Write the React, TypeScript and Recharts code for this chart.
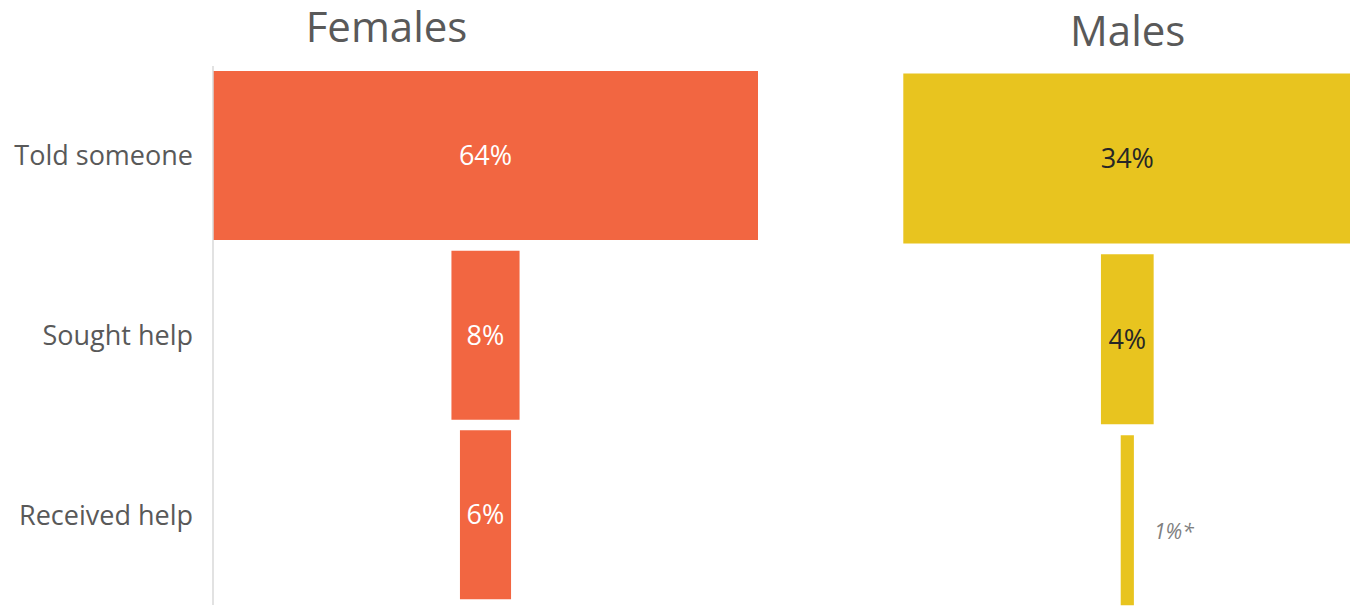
import React from "react";
import { BarChart, Bar, XAxis, YAxis, LabelList } from "recharts";

const categories = ["Told someone", "Sought help", "Received help"];
const femaleValues = [64, 8, 6];
const maleValues = [34, 4, 1];
const femaleLabels = ["64%", "8%", "6%"];
const maleLabels = ["34%", "4%", "1%*"];

const FEMALE_COLOR = "#F26641";
const MALE_COLOR = "#E8C41F";
const TEXT_GRAY = "#595959";
const FONT = "'Open Sans', 'Noto Sans', sans-serif";

function buildRows(values: number[], labels: string[]) {
  const max = Math.max(...values);
  return categories.map((cat, i) => ({
    cat,
    pad: (max - values[i]) / 2,
    val: values[i],
    label: labels[i],
  }));
}

const femaleRows = buildRows(femaleValues, femaleLabels);
const maleRows = buildRows(maleValues, maleLabels);

const FemaleLabel = (props: any) => {
  const { x, y, width, height, value } = props;
  return (
    <text
      x={x + width / 2}
      y={y + height / 2}
      dy="0.355em"
      textAnchor="middle"
      fill="#ffffff"
      fontSize={27}
      fontFamily={FONT}
    >
      {value}
    </text>
  );
};

const MaleLabel = (props: any) => {
  const { x, y, width, height, value, index } = props;
  if (index === 2) {
    return (
      <text
        x={x + width + 20}
        y={y + height / 2 + 11}
        dy="0.355em"
        textAnchor="start"
        fill="#7f7f7f"
        fontSize={21}
        fontStyle="italic"
        fontFamily={FONT}
      >
        {value}
      </text>
    );
  }
  return (
    <text
      x={x + width / 2}
      y={y + height / 2}
      dy="0.355em"
      textAnchor="middle"
      fill="#262626"
      fontSize={27}
      fontFamily={FONT}
    >
      {value}
    </text>
  );
};

export default function App() {
  return (
    <div
      style={{
        position: "absolute",
        left: 0,
        top: 0,
        width: 1350,
        height: 606,
        overflow: "hidden",
        background: "#ffffff",
        fontFamily: FONT,
      }}
    >
      <svg
        width={1350}
        height={606}
        style={{ position: "absolute", left: 0, top: 0 }}
      >
        <text
          x={386.5}
          y={41.5}
          textAnchor="middle"
          fill={TEXT_GRAY}
          fontSize={42}
          fontFamily={FONT}
        >
          Females
        </text>
        <text
          x={1127.7}
          y={46}
          textAnchor="middle"
          fill={TEXT_GRAY}
          fontSize={42}
          fontFamily={FONT}
        >
          Males
        </text>
      </svg>

      <div style={{ position: "absolute", left: 0, top: 0 }}>
        <BarChart
          width={773}
          height={606}
          data={femaleRows}
          layout="vertical"
          margin={{ top: 66, right: 15, bottom: 1, left: 0 }}
          barSize={169}
        >
          <XAxis type="number" domain={[0, Math.max(...femaleValues)]} hide />
          <YAxis
            type="category"
            dataKey="cat"
            width={213}
            tickLine={false}
            tickMargin={14}
            axisLine={{ stroke: "#d9d9d9", strokeWidth: 1.5 }}
            tick={{ fill: TEXT_GRAY, fontSize: 27, fontFamily: FONT }}
          />
          <Bar
            dataKey="pad"
            stackId="f"
            fill="transparent"
            isAnimationActive={false}
          />
          <Bar
            dataKey="val"
            stackId="f"
            fill={FEMALE_COLOR}
            isAnimationActive={false}
          >
            <LabelList dataKey="label" content={FemaleLabel} />
          </Bar>
        </BarChart>
      </div>

      <div style={{ position: "absolute", left: 880, top: 0 }}>
        <BarChart
          width={500}
          height={612}
          data={maleRows}
          layout="vertical"
          margin={{ top: 68.5, right: 28.7, bottom: 1, left: 23.3 }}
          barSize={170}
        >
          <XAxis type="number" domain={[0, Math.max(...maleValues)]} hide />
          <YAxis type="category" dataKey="cat" hide />
          <Bar
            dataKey="pad"
            stackId="m"
            fill="transparent"
            isAnimationActive={false}
          />
          <Bar
            dataKey="val"
            stackId="m"
            fill={MALE_COLOR}
            isAnimationActive={false}
          >
            <LabelList dataKey="label" content={MaleLabel} />
          </Bar>
        </BarChart>
      </div>
    </div>
  );
}
